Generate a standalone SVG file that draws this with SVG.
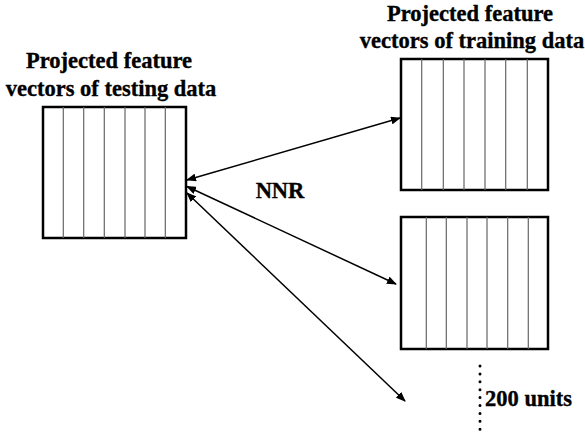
<svg xmlns="http://www.w3.org/2000/svg" width="585" height="432" viewBox="0 0 585 432">
  <style>
    .title { font-weight: bold; font-size: 22.5px; fill: #000; stroke: #000; stroke-width: 0.35; text-anchor: middle; }
    .frame { fill: #fff; stroke: #000; stroke-width: 2.5; }
    .col { stroke: #666; stroke-width: 1.2; }
    .link { stroke: #000; stroke-width: 1.5; fill: none; marker-start: url(#head); marker-end: url(#head); }
  </style>
  <defs>
    <marker id="head" markerUnits="userSpaceOnUse" markerWidth="10" markerHeight="8" refX="9" refY="4" orient="auto-start-reverse">
      <path d="M0,0 L10,4 L0,8 z" fill="#000"/>
    </marker>
  </defs>
  <rect width="585" height="432" fill="#fff"/>

  <g font-family="'Liberation Serif', 'Times New Roman', Times, serif">
  <!-- testing data block -->
  <g id="testing">
    <text class="title" x="109" y="68">Projected feature</text>
    <text class="title" x="111" y="96">vectors of testing data</text>
    <rect class="frame" x="43" y="107" width="143" height="131"/>
    <g class="col">
      <line x1="63.3" y1="107" x2="63.3" y2="238"/>
      <line x1="83.7" y1="107" x2="83.7" y2="238"/>
      <line x1="104.3" y1="107" x2="104.3" y2="238"/>
      <line x1="125" y1="107" x2="125" y2="238"/>
      <line x1="145" y1="107" x2="145" y2="238"/>
      <line x1="165.3" y1="107" x2="165.3" y2="238"/>
    </g>
  </g>

  <!-- training data block, first -->
  <g id="training1">
    <text class="title" x="470" y="21">Projected feature</text>
    <text class="title" x="472" y="48">vectors of training data</text>
    <rect class="frame" x="401" y="59" width="147" height="131"/>
    <g class="col">
      <line x1="421.7" y1="59" x2="421.7" y2="190"/>
      <line x1="443.3" y1="59" x2="443.3" y2="190"/>
      <line x1="464" y1="59" x2="464" y2="190"/>
      <line x1="485" y1="59" x2="485" y2="190"/>
      <line x1="505.7" y1="59" x2="505.7" y2="190"/>
      <line x1="527.3" y1="59" x2="527.3" y2="190"/>
    </g>
  </g>

  <!-- training data block, second -->
  <g id="training2">
    <rect class="frame" x="401" y="217" width="147" height="132"/>
    <g class="col">
      <line x1="426.3" y1="217" x2="426.3" y2="349"/>
      <line x1="446.3" y1="217" x2="446.3" y2="349"/>
      <line x1="467" y1="217" x2="467" y2="349"/>
      <line x1="487" y1="217" x2="487" y2="349"/>
      <line x1="507.7" y1="217" x2="507.7" y2="349"/>
      <line x1="528.3" y1="217" x2="528.3" y2="349"/>
    </g>
  </g>

  <!-- remaining units -->
  <g id="units">
    <line x1="480" y1="366" x2="480" y2="430" stroke="#000" stroke-width="3" stroke-linecap="round" stroke-dasharray="0 7.9"/>
    <text class="title" x="485" y="406" style="text-anchor:start">200 units</text>
  </g>

  <!-- nearest neighbour links -->
  <g id="connectors">
    <line class="link" x1="187" y1="180" x2="400" y2="118"/>
    <line class="link" x1="187" y1="186.5" x2="396" y2="284"/>
    <line class="link" x1="187" y1="193" x2="405" y2="401"/>
    <text class="title" x="280" y="198">NNR</text>
  </g>
  </g>
</svg>
